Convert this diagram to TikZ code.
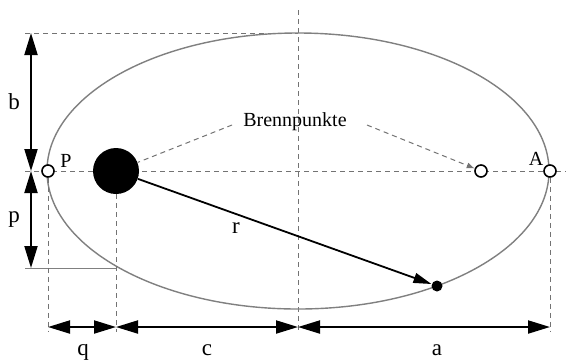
\documentclass[tikz,border=0pt]{standalone}
\usepackage{fontspec}
\setmainfont{Liberation Serif}
\usetikzlibrary{arrows.meta}
\begin{document}
\begin{tikzpicture}[x=0.5pt,y=-0.5pt,
  dimline/.style={line width=1pt,{Triangle[length=11pt,width=6.5pt]}-{Triangle[length=11pt,width=6.5pt]}},
  helper/.style={draw=black!55,dash pattern=on 2.5pt off 2pt,line width=0.5pt},
  orbit/.style={draw=gray,line width=0.7pt},
  lbl/.style={font=\fontsize{10}{12}\selectfont,inner sep=0pt,anchor=base},
  biglbl/.style={font=\fontsize{11.5}{13}\selectfont,inner sep=0pt,anchor=base},
  ring/.style={circle,draw,line width=0.8pt,fill=white,minimum size=6pt,inner sep=0pt}]
\fill[white] (0,0) rectangle (566,361);
\useasboundingbox (0,0) rectangle (566,361);
% guide lines
\coordinate (axL) at (25,171);
\coordinate (axR) at (566,171);
\coordinate (topL) at (25,33);
\coordinate (topC) at (298,33);
\coordinate (vtop) at (298,10);
\coordinate (vbot) at (298,332);
\coordinate (pbot) at (48,332);
\coordinate (sbot) at (116,332);
\coordinate (abot) at (550,332);
\coordinate (latL) at (25,268);
\coordinate (latR) at (116,268);
\draw[helper] (axL) -- (axR);
\draw[helper] (topL) -- (topC);
\draw[helper] (vtop) -- (vbot);
\draw[draw=gray,line width=0.5pt] (latL) -- (latR);
% orbit
\draw[orbit] (298,171) ellipse [x radius=251, y radius=138];
% bodies
\node[circle,fill,minimum size=23pt,inner sep=0pt] (sun) at (116,171) {};
\node[ring] (P) at (48,171) {};
\node[ring] (F2) at (481,171) {};
\node[ring] (A) at (550,171) {};
\node[circle,fill,minimum size=5.5pt,inner sep=0pt] (planet) at (437,286) {};
\draw[helper] (P) -- (pbot);
\draw[helper] (sun) -- (sbot);
\draw[helper] (A) -- (abot);
% radius vector
\draw[line width=0.9pt,-{Triangle[length=9pt,width=5pt]}] (sun) -- (planet);
\node[biglbl] (rl) at (236,233) {r};
% foci label
\node[lbl] (bp) at (295,126) {Brennpunkte};
\coordinate (bl) at (232,125);
\coordinate (br) at (367,125);
\draw[helper] (bl) -- (sun);
\draw[helper,-{Latex[length=4pt,width=3pt]}] (br) -- (F2);
\node[lbl] (Pl) at (66,167) {P};
\node[lbl] (Al) at (536,165) {A};
% vertical dimensions
\coordinate (d1) at (31,33);
\coordinate (d2) at (31,171);
\coordinate (d3) at (31,268);
\draw[dimline] (d1) -- (d2);
\draw[dimline] (d2) -- (d3);
\node[biglbl] (bl2) at (14,109) {b};
\node[biglbl] (pl) at (14,222) {p};
% horizontal dimensions
\coordinate (h1) at (48,327);
\coordinate (h2) at (116,327);
\coordinate (h3) at (298,327);
\coordinate (h4) at (550,327);
\draw[dimline] (h1) -- (h2);
\draw[dimline] (h2) -- (h3);
\draw[dimline] (h3) -- (h4);
\node[biglbl] (ql) at (83,355) {q};
\node[biglbl] (cl) at (207,355) {c};
\node[biglbl] (al) at (437,355) {a};
\end{tikzpicture}
\end{document}
